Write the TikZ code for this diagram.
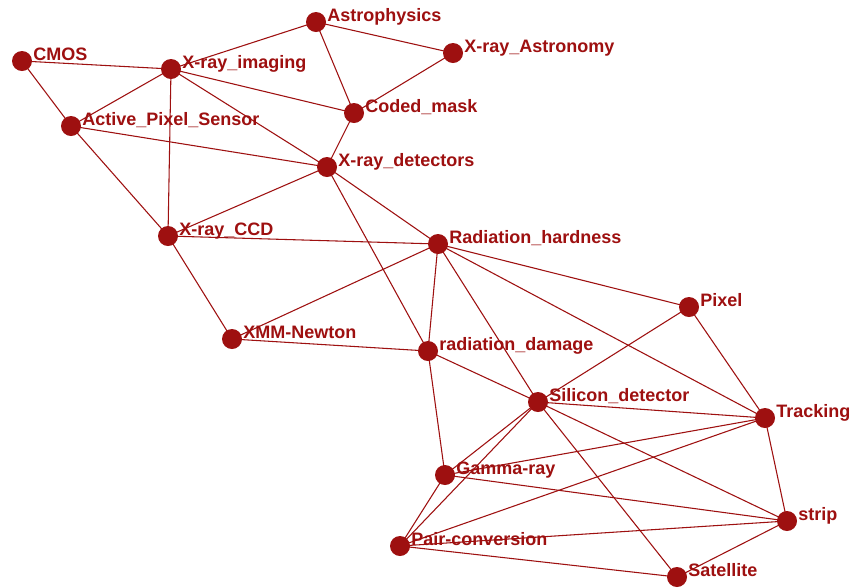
\documentclass[tikz,border=0pt]{standalone}
\usepackage{fontspec}
\setmainfont{Liberation Sans}
\definecolor{net}{RGB}{158,16,16}
\pgfdeclarelayer{edges}
\pgfsetlayers{edges,main}
\begin{document}
\begin{tikzpicture}[x=0.75pt,y=-0.75pt,
  vertex/.style={circle,fill=net,inner sep=0pt,minimum size=15pt},
  tag/.style={anchor=base west,text=net,inner sep=0pt,
    font=\bfseries\fontsize{13.5}{16}\selectfont},
  link/.style={draw=net,line width=0.8pt}]
\useasboundingbox (0,0) rectangle (860,587);

% vertices: name / x / y / label
\foreach \n/\x/\y/\t in {
  cmos/22/61/CMOS,
  img/171/69/X-ray\_imaging,
  ast/316/22/Astrophysics,
  xra/453/53/X-ray\_Astronomy,
  cod/354/113/Coded\_mask,
  aps/71/126/Active\_Pixel\_Sensor,
  det/327/167/X-ray\_detectors,
  ccd/168/236/X-ray\_CCD,
  rh/438/244/Radiation\_hardness,
  pix/689/307/Pixel,
  xmm/232/339/XMM-Newton,
  rd/428/351/radiation\_damage,
  si/538/402/Silicon\_detector,
  trk/765/418/Tracking,
  gam/445/475/Gamma-ray,
  strip/787/521/strip,
  pc/400/546/Pair-conversion,
  sat/677/577/Satellite}{
  \node[vertex] (\n) at (\x,\y) {};
  \node[tag] (\n-tag) at (\x+11,\y-1) {\t};
}

% white page and connectors, beneath the vertices
\begin{pgfonlayer}{edges}
\fill[white] (0,0) rectangle (860,587);
\foreach \a/\b in {
  cmos/img, cmos/aps, aps/img, img/ccd, aps/ccd, aps/det,
  img/ast, img/cod, img/det, ast/xra, ast/cod, xra/cod, cod/det,
  det/ccd, det/rh, det/rd, ccd/rh, ccd/xmm, xmm/rh, xmm/rd,
  rh/rd, rh/pix, rh/si, rh/trk, pix/si, pix/trk, rd/si, rd/gam,
  si/trk, si/gam, si/pc, si/sat, si/strip, gam/trk, gam/strip,
  gam/pc, pc/trk, pc/strip, pc/sat, trk/strip, strip/sat}{
  \draw[link] (\a.center) -- (\b.center);
}
\end{pgfonlayer}
\end{tikzpicture}
\end{document}
